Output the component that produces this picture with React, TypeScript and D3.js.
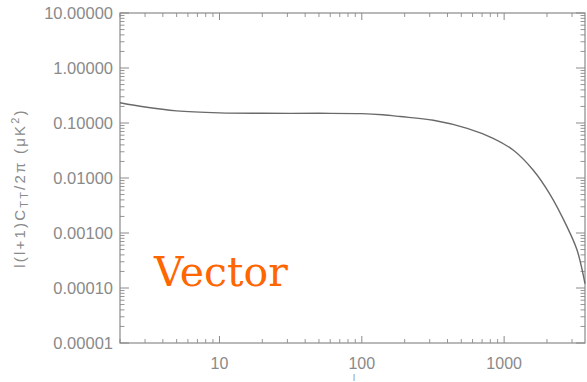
import React from "react";
import * as d3 from "d3";

const ELL = [2, 3, 5, 10, 20, 50, 100, 140, 186, 318, 550, 837, 1157, 1598, 2105, 2770, 3253, 3700];
const CL = [0.234, 0.195, 0.166, 0.153, 0.15, 0.15, 0.148, 0.141, 0.131, 0.112, 0.08, 0.0527, 0.0323, 0.014, 0.005, 0.00129, 0.00049, 0.00012];
const Y_TICKS = [10, 1, 0.1, 0.01, 0.001, 0.0001, 0.00001];
const Y_TICK_LABELS = ["10.00000", "1.00000", "0.10000", "0.01000", "0.00100", "0.00010", "0.00001"];
const X_TICKS = [10, 100, 1000];
const X_TICK_LABELS = ["10", "100", "1000"];
const X_DOMAIN = [2, 3700];
const Y_DOMAIN = [0.00001, 10];

const W = 587, H = 382;
const L = 120, R = 585, T = 13, B = 343;
const AX = "#8a8a8a";

export default function App() {
  const x = d3.scaleLog().domain(X_DOMAIN).range([L, R]);
  const y = d3.scaleLog().domain(Y_DOMAIN).range([B, T]);
  const line = d3
    .line<number>()
    .x((_, i) => x(ELL[i]))
    .y((d) => y(d))
    .curve(d3.curveCatmullRom.alpha(0.5));

  const xMinor: number[] = [];
  for (let e = 0; e <= 3; e++) {
    for (let m = 2; m <= 9; m++) {
      const v = m * Math.pow(10, e);
      if (v >= X_DOMAIN[0] && v <= X_DOMAIN[1]) xMinor.push(v);
    }
  }
  const yMinor: number[] = [];
  for (let e = -5; e < 1; e++) {
    for (let m = 2; m <= 9; m++) yMinor.push(m * Math.pow(10, e));
  }

  return (
    <svg width={W} height={H} style={{ position: "absolute", left: 0, top: 0, background: "#fff" }}>
      <rect x={L} y={T} width={R - L} height={B - T} fill="none" stroke={AX} strokeWidth={1.2} />
      {Y_TICKS.map((v) => (
        <g key={"yt" + v}>
          <line x1={L} x2={L + 9} y1={y(v)} y2={y(v)} stroke={AX} />
          <line x1={R} x2={R - 9} y1={y(v)} y2={y(v)} stroke={AX} />
        </g>
      ))}
      {yMinor.map((v) => (
        <g key={"ym" + v}>
          <line x1={L} x2={L + 4.5} y1={y(v)} y2={y(v)} stroke={AX} strokeWidth={0.9} />
          <line x1={R} x2={R - 4.5} y1={y(v)} y2={y(v)} stroke={AX} strokeWidth={0.9} />
        </g>
      ))}
      {X_TICKS.map((v) => (
        <g key={"xt" + v}>
          <line x1={x(v)} x2={x(v)} y1={B} y2={B - 7} stroke={AX} />
          <line x1={x(v)} x2={x(v)} y1={T} y2={T + 7} stroke={AX} />
        </g>
      ))}
      {xMinor.map((v) => (
        <g key={"xm" + v}>
          <line x1={x(v)} x2={x(v)} y1={B} y2={B - 4} stroke={AX} strokeWidth={0.9} />
          <line x1={x(v)} x2={x(v)} y1={T} y2={T + 4} stroke={AX} strokeWidth={0.9} />
        </g>
      ))}
      {Y_TICKS.map((v, i) => (
        <text
          key={"yl" + v}
          x={L - 7}
          y={y(v)}
          dy="0.36em"
          textAnchor="end"
          fontFamily="Liberation Sans, Arial, sans-serif"
          fontSize={16.5}
          fill={AX}
        >
          {Y_TICK_LABELS[i]}
        </text>
      ))}
      {X_TICKS.map((v, i) => (
        <text
          key={"xl" + v}
          x={x(v)}
          y={369}
          textAnchor="middle"
          fontFamily="Liberation Sans, Arial, sans-serif"
          fontSize={16}
          fill={AX}
        >
          {X_TICK_LABELS[i]}
        </text>
      ))}
      <text x={354} y={381} textAnchor="middle" fontFamily="Liberation Sans, Arial, sans-serif" fontSize={9} fill={AX}>
        l
      </text>
      <text
        transform={`translate(25, 188) rotate(-90)`}
        textAnchor="middle"
        fontFamily="Liberation Sans, Arial, sans-serif"
        fontSize={15}
        letterSpacing={2.2}
        fill={AX}
      >
        l(l+1)C<tspan fontSize={11} dy={3}>TT</tspan>
        <tspan dy={-3}>/2π (μK</tspan>
        <tspan fontSize={11} dy={-6}>2</tspan>
        <tspan dy={6}>)</tspan>
      </text>
      <path d={line(CL) || ""} fill="none" stroke="#6a6a6a" strokeWidth={1.4} />
      <text x={154} y={286} fontFamily="DejaVu Serif, serif" fontSize={41} fill="#ff6600">
        Vector
      </text>
    </svg>
  );
}
